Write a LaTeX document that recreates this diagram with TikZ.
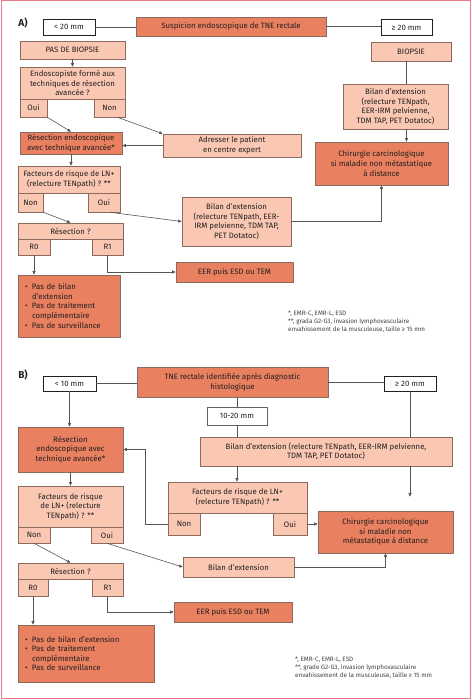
\documentclass[tikz,border=0pt]{standalone}
\usepackage{fontspec}
\setmainfont{Fira Sans}
\usetikzlibrary{arrows.meta}
\definecolor{tneDark}{HTML}{E98060}
\definecolor{tneLight}{HTML}{FAC8B2}
\definecolor{tneEdge}{HTML}{8C6A5E}
\definecolor{tneWire}{HTML}{555555}
\definecolor{tneFrame}{HTML}{E8788A}
\definecolor{tneText}{HTML}{231F20}
\tikzset{
  box/.style={shape=rectangle, draw=tneEdge, line width=0.6pt, inner sep=1pt, align=center, text=tneText, font=\fontsize{7.8}{9.6}\selectfont},
  dark/.style={box, fill=tneDark},
  light/.style={box, fill=tneLight},
  sizebox/.style={box, draw=tneText, line width=0.8pt, fill=white},
  wire/.style={draw=tneWire, line width=0.6pt},
  arrow/.style={wire, -{Triangle[length=3.5pt,width=3pt]}},
  note/.style={anchor=north west, align=left, inner sep=0pt, text=tneText!85, font=\fontsize{6.3}{8}\selectfont},
  tag/.style={text=tneText, font=\bfseries\fontsize{10}{12}\selectfont}
}
\newcommand{\bul}{\makebox[7pt][l]{\textbullet}}
\begin{document}
\begin{tikzpicture}[x=1pt, y=-1pt]
	\useasboundingbox (0,0) rectangle (471,700);
	\draw[tneFrame, line width=1pt] (1,1) rectangle (470,698);
	% Part A, nodes:
	\node[tag] (labA) at (23,23) {A)};
	\node[sizebox, minimum width=52pt, minimum height=16pt] (ltA) at (69,27) {< 20 mm};
	\node[dark, minimum width=190pt, minimum height=19pt] (suspA) at (231,26.5) {Suspicion endoscopique de TNE rectale};
	\node[sizebox, minimum width=51pt, minimum height=16pt] (geA) at (406.5,27.5) {≥ 20 mm};
	\node[light, minimum width=105pt, minimum height=18pt] (noBiop) at (72.5,50) {PAS DE BIOPSIE};
	\node[light, minimum width=80pt, minimum height=19pt] (biop) at (411,51.5) {BIOPSIE};
	\node[light, minimum width=105pt, minimum height=32pt] (endo) at (72.5,83) {Endoscopiste formé aux\\techniques de résection\\avancée ?};
	\node[light, minimum width=27pt, minimum height=18pt] (endoOui) at (33.5,108) {Oui};
	\node[light, minimum width=31pt, minimum height=18pt] (endoNon) at (109.5,108) {Non};
	\node[dark, minimum width=102pt, minimum height=22pt] (resecA) at (71,143) {Résection endoscopique\\avec technique avancée*};
	\node[light, minimum width=138pt, minimum height=23pt] (expert) at (232,145.5) {Adresser le patient\\en centre expert};
	\node[light, minimum width=105pt, minimum height=45pt] (bilanR) at (395.5,106.5) {Bilan d’extension\\(relecture TENpath,\\EER-IRM pelvienne,\\TDM TAP, PET Dotatoc)};
	\node[dark, minimum width=133pt, minimum height=43pt] (chirA) at (381.5,163.5) {Chirurgie carcinologique\\si maladie non métastatique\\à distance};
	\node[light, minimum width=102pt, minimum height=27pt] (riskA) at (69,179.5) {Facteurs de risque de LN+\\(relecture TENpath) ? **};
	\node[light, minimum width=25pt, minimum height=19pt] (riskNonA) at (30.5,202.5) {Non};
	\node[light, minimum width=32pt, minimum height=19pt] (riskOuiA) at (104,202.5) {Oui};
	\node[light, minimum width=109pt, minimum height=49pt] (bilanM) at (236.5,221.5) {Bilan d’extension\\(relecture TENpath, EER-\\IRM pelvienne, TDM TAP,\\PET Dotatoc)};
	\node[light, minimum width=105pt, minimum height=16pt] (resQA) at (70.5,231) {Résection ?};
	\node[light, minimum width=32pt, minimum height=16pt] (rzeroA) at (34,247) {R0};
	\node[light, minimum width=31pt, minimum height=16pt] (roneA) at (107.5,247) {R1};
	\node[dark, minimum width=117pt, minimum height=20pt] (eerA) at (234.5,272) {EER puis ESD ou TEM};
	\node[dark, text width=88pt, inner sep=7pt, minimum height=62pt, align=left] (pasA) at (69,306) {\bul Pas de bilan\\\hspace*{7pt}d’extension\\\bul Pas de traitement\\\hspace*{7pt}complémentaire\\\bul Pas de surveillance};
	\node[note] (noteA) at (288,311) {*, EMR-C, EMR-L, ESD\\**, grada G2-G3, invasion lymphovasculaire\\envahissement de la musculeuse, taille ≥ 15 mm};
	% Part A, wires:
	\draw[wire] (ltA.east) -- (ltA.east -| suspA.west);
	\draw[wire] (suspA.east) -- (suspA.east -| geA.west);
	\draw[arrow] (noBiop) -- (endo);
	\draw[wire] (biop.south -| geA) -- (bilanR.north -| geA);
	\draw[arrow] (bilanR.south -| geA) -- (chirA.north -| geA);
	\draw[arrow] (endoOui.south east) -- (resecA.north);
	\draw[arrow] ([xshift=8pt]endoNon.south) -- (expert.north west);
	\draw[arrow] (expert.west) -- (expert.west -| resecA.east);
	\draw[arrow] (resecA.south) -- (resecA.south |- riskA.north);
	\draw[arrow] (riskNonA.south east) -- (resQA.north);
	\draw[arrow] ([xshift=6pt]riskOuiA.south) -- (bilanM.west);
	\draw[arrow] (bilanM.east) -| (chirA.south);
	\draw[arrow] (roneA.south) |- (eerA.west);
	\draw[arrow] (rzeroA.south) -- (rzeroA.south |- pasA.north);
	% Part B, nodes:
	\node[tag] (labB) at (23,375) {B)};
	\node[sizebox, minimum width=53pt, minimum height=15pt] (ltB) at (69.5,383.5) {< 10 mm};
	\node[dark, minimum width=191pt, minimum height=30pt] (tneB) at (232.5,382) {TNE rectale identifiée après diagnostic\\histologique};
	\node[sizebox, minimum width=52pt, minimum height=15pt] (geB) at (410,384) {≥ 20 mm};
	\node[sizebox, line width=0.6pt, draw=tneText!70, minimum width=60pt, minimum height=18pt] (midB) at (237,416) {10-20 mm};
	\node[light, minimum width=252pt, minimum height=29pt] (bilanB) at (326,451.5) {Bilan d'extension (relecture TENpath, EER-IRM pelvienne,\\TDM TAP, PET Dotatoc)};
	\node[dark, minimum width=105pt, minimum height=45pt] (resecB) at (70.5,449.5) {Résection\\endoscopique avec\\technique avancée*};
	\node[light, minimum width=105pt, minimum height=41pt] (riskB) at (70.5,506.5) {Facteurs de risque\\de LN+ (relecture\\TENpath) ? **};
	\node[light, minimum width=32pt, minimum height=16pt] (riskNonB) at (34,535) {Non};
	\node[light, minimum width=32pt, minimum height=16pt] (riskOuiB) at (107,535) {Oui};
	\node[light, minimum width=139pt, minimum height=31pt] (riskC) at (237.5,497.5) {Facteurs de risque de LN+\\(relecture TENpath) ? **};
	\node[light, minimum width=32pt, minimum height=22pt] (riskNonC) at (184,524) {Non};
	\node[light, minimum width=34pt, minimum height=22pt] (riskOuiC) at (290,524) {Oui};
	\node[dark, minimum width=135pt, minimum height=42pt] (chirB) at (385.5,532) {Chirurgie carcinologique\\si maladie non\\métastatique à distance};
	\node[light, minimum width=111pt, minimum height=20pt] (bilanS) at (238.5,567) {Bilan d'extension};
	\node[light, minimum width=105pt, minimum height=16pt] (resQB) at (70.5,571) {Résection ?};
	\node[light, minimum width=30pt, minimum height=17pt] (rzeroB) at (33,587.5) {R0};
	\node[light, minimum width=31pt, minimum height=17pt] (roneB) at (107.5,587.5) {R1};
	\node[dark, minimum width=118pt, minimum height=20pt] (eerB) at (233,612) {EER puis ESD ou TEM};
	\node[dark, text width=122pt, inner sep=7pt, minimum height=57pt, align=left] (pasB) at (86,653.5) {\bul Pas de bilan d'extension\\\bul Pas de traitement\\\hspace*{7pt}complémentaire\\\bul Pas de surveillance};
	\node[note] (noteB) at (295,657) {*, EMR-C, EMR-L, ESD\\**, grade G2-G3, invasion lymphovasculaire\\envahissement de la musculeuse, taille ≥ 15 mm};
	% Part B, wires:
	\draw[wire] (ltB.east) -- (ltB.east -| tneB.west);
	\draw[wire] (tneB.east) -- (tneB.east -| geB.west);
	\draw[wire] (tneB.south -| midB) -- (midB.north);
	\draw[wire] (midB.south) -- (midB.south |- bilanB.north);
	\draw[arrow] (bilanB.south -| midB) -- (riskC.north -| midB);
	\draw[wire] (geB.south) -- (geB.south |- bilanB.north);
	\draw[arrow] (bilanB.south -| geB) -- ([yshift=14pt]chirB.north -| geB);
	\draw[arrow] (ltB.south) -- (ltB.south |- resecB.north);
	\draw[arrow] (resecB) -- (riskB);
	\draw[arrow] (riskNonC.west) -- ++(-22,0) |- (resecB.east);
	\draw[arrow] (riskOuiC.east) -- (riskOuiC.east -| chirB.west);
	\draw[arrow] (riskNonB.south) -- (resQB.north);
	\draw[arrow] (riskOuiB.south) -- (bilanS.west);
	\draw[arrow] (bilanS.east) -| (chirB.south);
	\draw[arrow] (roneB.south) |- (eerB.west);
	\draw[arrow] (rzeroB.south) -- (rzeroB.south |- pasB.north);
\end{tikzpicture}
\end{document}
